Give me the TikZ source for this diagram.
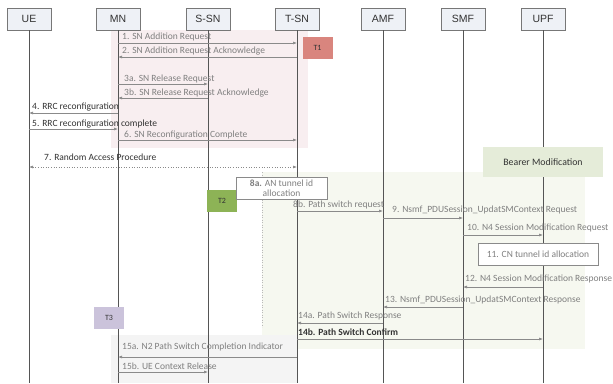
\documentclass[tikz,border=0pt]{standalone}
\usepackage{fontspec}
\setmainfont{Carlito}
\newfontfamily\hdrfont{Liberation Sans}
\usetikzlibrary{arrows.meta}
\definecolor{pinkbg}{HTML}{F8EEF0}
\definecolor{greenbg}{HTML}{F6F8F0}
\definecolor{greybg}{HTML}{F4F4F4}
\definecolor{tonecol}{HTML}{D9857E}
\definecolor{ttwocol}{HTML}{8DB356}
\definecolor{tthreecol}{HTML}{CBC3DB}
\definecolor{bearercol}{HTML}{E5ECD9}
\definecolor{hdrfill}{HTML}{EEF1F6}
\definecolor{linegrey}{HTML}{8A8A8A}
\definecolor{lifegrey}{HTML}{555555}
\definecolor{lblgrey}{HTML}{808080}
\definecolor{lbldark}{HTML}{333333}
\begin{document}
\begin{tikzpicture}[x=1pt,y=-1pt,
  hbox/.style={draw=lifegrey!80, fill=hdrfill, line width=0.6pt, minimum width=44pt, minimum height=22pt, inner sep=0pt, font=\hdrfont\fontsize{10.5}{12}\selectfont, text=lbldark},
  life/.style={draw=lifegrey, line width=0.7pt},
  msg/.style={draw=linegrey, line width=0.6pt, -{Latex[length=4pt,width=3pt]}},
  lbl/.style={anchor=west, inner sep=0pt, font=\fontsize{9.5}{11}\selectfont, text=lblgrey},
  lbld/.style={lbl, text=lbldark},
  tbox/.style={minimum width=30pt, minimum height=22pt, inner sep=0pt, font=\fontsize{8}{9}\selectfont, text=lbldark},
  wbox/.style={draw=linegrey, fill=white, line width=0.6pt, inner sep=1pt, font=\fontsize{9.5}{10}\selectfont, text=lblgrey, align=center}
]
\useasboundingbox (0,0) rectangle (613,383);
% background regions
\fill[pinkbg] (111,30) rectangle (308,148);
\fill[greenbg] (262,172) rectangle (585,349);
\fill[greybg] (111,335) rectangle (297,383);
\draw[linegrey!60, dotted, line width=0.5pt] (262,172) -- (262,327);
% headers
\node[hbox] (ue) at (29,19) {UE};
\node[hbox] (mn) at (118,19) {MN};
\node[hbox] (ssn) at (208,19) {S-SN};
\node[hbox] (tsn) at (297,19) {T-SN};
\node[hbox] (amf) at (383,19) {AMF};
\node[hbox] (smf) at (463,19) {SMF};
\node[hbox] (upf) at (543,19) {UPF};
% lifelines
\foreach \n in {ue,mn,ssn,tsn,amf,smf,upf}
  \draw[life] (\n.south) -- (\n.south |- 0,383);
% timers / boxes
\node[tbox, fill=tonecol] (t1) at (317.5,47.5) {T1};
\node[tbox, fill=ttwocol] (t2) at (222,201) {T2};
\node[tbox, fill=tthreecol] (t3) at (109,318) {T3};
\node[tbox, fill=bearercol, minimum width=120pt, minimum height=30pt, font=\fontsize{9.8}{11}\selectfont] (bm) at (543,162) {Bearer Modification};
\node[wbox, minimum width=91pt, minimum height=22pt] (aa) at (281.5,188) {\textbf{8a.} AN tunnel id\\allocation};
\node[wbox, minimum width=120pt, minimum height=22pt] (cn) at (538,254) {11. CN tunnel id allocation};
% messages
\draw[msg] (mn |- 0,43) -- (tsn |- 0,43);
\node[lbl] (l1) at (122,36.5) {1. SN Addition Request};
\draw[msg] (tsn |- 0,57) -- (mn |- 0,57);
\node[lbl] (l2) at (122,51) {2. SN Addition Request Acknowledge};
\draw[msg] (mn |- 0,84) -- (ssn |- 0,84);
\node[lbl] (l3a) at (124,79) {3a. SN Release Request};
\draw[msg] (ssn |- 0,98) -- (mn |- 0,98);
\node[lbl] (l3b) at (124,93) {3b. SN Release Request Acknowledge};
\draw[msg] (mn |- 0,113) -- (ue |- 0,113);
\node[lbld] (l4) at (32,107.5) {4. RRC reconfiguration};
\draw[msg] (ue |- 0,129) -- (mn |- 0,129);
\node[lbld] (l5) at (32,124) {5. RRC reconfiguration complete};
\draw[msg] (mn |- 0,140) -- (tsn |- 0,140);
\node[lbl] (l6) at (124,135) {6. SN Reconfiguration Complete};
\draw[draw=linegrey, line width=0.6pt, dotted, {Latex[length=4pt,width=3pt]}-{Latex[length=4pt,width=3pt]}] (ue |- 0,167) -- (tsn |- 0,167);
\node[lbld] (l7) at (44,157.5) {7. Random Access Procedure};
\draw[msg] (tsn |- 0,211) -- (amf |- 0,211);
\node[lbl] (l8b) at (293,205) {8b. Path switch request};
\draw[msg] (amf |- 0,218) -- (smf |- 0,218);
\node[lbl] (l9) at (392,209.5) {9. Nsmf\_PDUSession\_UpdatSMContext Request};
\draw[msg] (smf |- 0,235) -- (upf |- 0,235);
\node[lbl] (l10) at (467,227.5) {10. N4 Session Modification Request};
\draw[msg] (upf |- 0,287) -- (smf |- 0,287);
\node[lbl] (l12) at (465,278.5) {12. N4 Session Modification Response};
\draw[msg] (smf |- 0,307) -- (amf |- 0,307);
\node[lbl] (l13) at (385,299.5) {13. Nsmf\_PDUSession\_UpdatSMContext Response};
\draw[msg] (amf |- 0,323) -- (tsn |- 0,323);
\node[lbl] (l14a) at (298,316) {14a. Path Switch Response};
\draw[msg] (tsn |- 0,339) -- (upf |- 0,339);
\node[lbld, font=\bfseries\fontsize{9.5}{11}\selectfont] (l14b) at (298,332) {14b. Path Switch Confirm};
\draw[msg] (tsn |- 0,357) -- (mn |- 0,357);
\node[lbl] (l15a) at (122,346.5) {15a. N2 Path Switch Completion Indicator};
\draw[msg] (mn |- 0,372) -- (ssn |- 0,372);
\node[lbl] (l15b) at (122,366) {15b. UE Context Release};
\end{tikzpicture}
\end{document}
